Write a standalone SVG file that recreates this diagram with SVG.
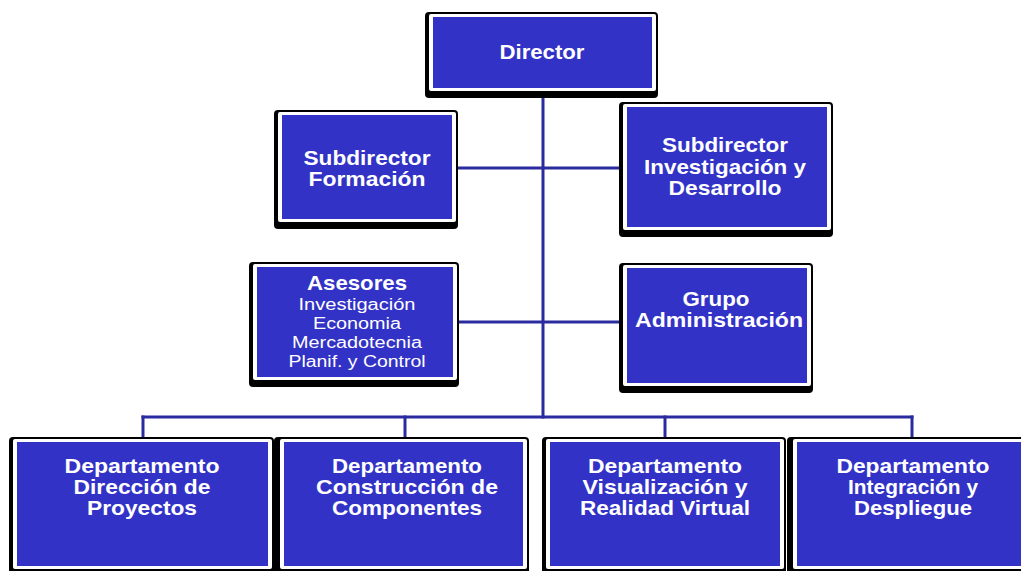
<svg xmlns="http://www.w3.org/2000/svg" width="1021" height="571" viewBox="0 0 1021 571">
  <style>
    .shadow { fill: #000000; }
    .frame { fill: #ffffff; }
    .fill { fill: #3232c6; }
    .link { stroke: #2b2ba0; stroke-width: 3; fill: none; stroke-linecap: square; }
    .t { font-family: "Liberation Sans", Arial, sans-serif; fill: #ffffff; text-anchor: middle; }
    .b { font-weight: bold; font-size: 21px; }
    .r { font-size: 16px; }
  </style>
  <rect width="1021" height="571" fill="#ffffff"/>

  <!-- connectors -->
  <g id="connectors">
    <line class="link" x1="543" y1="98" x2="543" y2="417"/>
    <line class="link" x1="458" y1="168" x2="621" y2="168"/>
    <line class="link" x1="460" y1="322" x2="621" y2="322"/>
    <line class="link" x1="143" y1="417" x2="912" y2="417"/>
    <line class="link" x1="143" y1="417" x2="143" y2="437"/>
    <line class="link" x1="405" y1="417" x2="405" y2="437"/>
    <line class="link" x1="665" y1="417" x2="665" y2="437"/>
    <line class="link" x1="912" y1="417" x2="912" y2="437"/>
  </g>

  <!-- Director -->
  <g id="director">
    <rect class="shadow" x="425" y="12" width="233" height="86" rx="4"/>
    <rect class="frame" x="429" y="14" width="227" height="77" rx="2"/>
    <rect class="fill" x="433" y="17" width="219" height="71"/>
    <text class="t b" x="542" y="59" textLength="85" lengthAdjust="spacingAndGlyphs">Director</text>
  </g>

  <!-- Subdirector Formación -->
  <g id="sub-formacion">
    <rect class="shadow" x="274" y="110" width="184" height="119" rx="4"/>
    <rect class="frame" x="278" y="112" width="178" height="110" rx="2"/>
    <rect class="fill" x="282" y="115" width="170" height="104"/>
    <text class="t b" x="367" y="165" textLength="127" lengthAdjust="spacingAndGlyphs">Subdirector</text>
    <text class="t b" x="367" y="186" textLength="117" lengthAdjust="spacingAndGlyphs">Formación</text>
  </g>

  <!-- Subdirector Investigación y Desarrollo -->
  <g id="sub-investigacion">
    <rect class="shadow" x="619" y="102" width="214" height="135" rx="4"/>
    <rect class="frame" x="623" y="104" width="208" height="126" rx="2"/>
    <rect class="fill" x="627" y="107" width="200" height="120"/>
    <text class="t b" x="725" y="152" textLength="126" lengthAdjust="spacingAndGlyphs">Subdirector</text>
    <text class="t b" x="725" y="174" textLength="162" lengthAdjust="spacingAndGlyphs">Investigación y</text>
    <text class="t b" x="725" y="195" textLength="113" lengthAdjust="spacingAndGlyphs">Desarrollo</text>
  </g>

  <!-- Asesores -->
  <g id="asesores">
    <rect class="shadow" x="249" y="262" width="210" height="125" rx="4"/>
    <rect class="frame" x="253" y="264" width="204" height="116" rx="2"/>
    <rect class="fill" x="257" y="267" width="196" height="110"/>
    <text class="t b" x="357" y="290" textLength="100" lengthAdjust="spacingAndGlyphs">Asesores</text>
    <text class="t r" x="357" y="310" textLength="117" lengthAdjust="spacingAndGlyphs">Investigación</text>
    <text class="t r" x="357" y="329" textLength="88" lengthAdjust="spacingAndGlyphs">Economia</text>
    <text class="t r" x="357" y="348" textLength="130" lengthAdjust="spacingAndGlyphs">Mercadotecnia</text>
    <text class="t r" x="357" y="367" textLength="137" lengthAdjust="spacingAndGlyphs">Planif. y Control</text>
  </g>

  <!-- Grupo Administración -->
  <g id="grupo-administracion">
    <rect class="shadow" x="619" y="263" width="194" height="130" rx="4"/>
    <rect class="frame" x="623" y="265" width="188" height="121" rx="2"/>
    <rect class="fill" x="627" y="268" width="180" height="115"/>
    <text class="t b" x="716" y="306" textLength="67" lengthAdjust="spacingAndGlyphs">Grupo</text>
    <text class="t b" x="719" y="327" textLength="168" lengthAdjust="spacingAndGlyphs">Administración</text>
  </g>

  <!-- Departamento Dirección de Proyectos -->
  <g id="dep-proyectos">
    <rect class="shadow" x="9" y="437" width="265" height="139" rx="4"/>
    <rect class="frame" x="13" y="439" width="259" height="130" rx="2"/>
    <rect class="fill" x="17" y="442" width="251" height="124"/>
    <text class="t b" x="142" y="473" textLength="155" lengthAdjust="spacingAndGlyphs">Departamento</text>
    <text class="t b" x="142" y="494" textLength="137" lengthAdjust="spacingAndGlyphs">Dirección de</text>
    <text class="t b" x="142" y="515" textLength="110" lengthAdjust="spacingAndGlyphs">Proyectos</text>
  </g>

  <!-- Departamento Construcción de Componentes -->
  <g id="dep-componentes">
    <rect class="shadow" x="274" y="437" width="255" height="139" rx="4"/>
    <rect class="frame" x="280" y="439" width="247" height="130" rx="2"/>
    <rect class="fill" x="284" y="442" width="239" height="124"/>
    <text class="t b" x="407" y="473" textLength="150" lengthAdjust="spacingAndGlyphs">Departamento</text>
    <text class="t b" x="407" y="494" textLength="182" lengthAdjust="spacingAndGlyphs">Construcción de</text>
    <text class="t b" x="407" y="515" textLength="150" lengthAdjust="spacingAndGlyphs">Componentes</text>
  </g>

  <!-- Departamento Visualización y Realidad Virtual -->
  <g id="dep-visualizacion">
    <rect class="shadow" x="542" y="437" width="244" height="139" rx="4"/>
    <rect class="frame" x="546" y="439" width="238" height="130" rx="2"/>
    <rect class="fill" x="550" y="442" width="230" height="124"/>
    <text class="t b" x="665" y="473" textLength="154" lengthAdjust="spacingAndGlyphs">Departamento</text>
    <text class="t b" x="665" y="494" textLength="165" lengthAdjust="spacingAndGlyphs">Visualización y</text>
    <text class="t b" x="665" y="515" textLength="170" lengthAdjust="spacingAndGlyphs">Realidad Virtual</text>
  </g>

  <!-- Departamento Integración y Despliegue -->
  <g id="dep-integracion">
    <rect class="shadow" x="787" y="437" width="250" height="139" rx="4"/>
    <rect class="frame" x="793" y="439" width="242" height="130" rx="2"/>
    <rect class="fill" x="797" y="442" width="234" height="124"/>
    <text class="t b" x="913" y="473" textLength="153" lengthAdjust="spacingAndGlyphs">Departamento</text>
    <text class="t b" x="913" y="494" textLength="130" lengthAdjust="spacingAndGlyphs">Integración y</text>
    <text class="t b" x="913" y="515" textLength="118" lengthAdjust="spacingAndGlyphs">Despliegue</text>
  </g>
</svg>
